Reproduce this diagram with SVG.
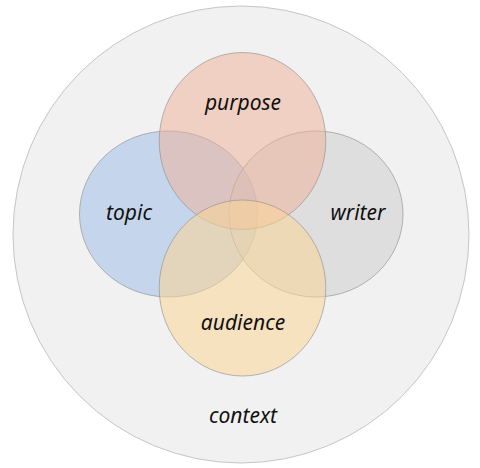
<svg xmlns="http://www.w3.org/2000/svg" width="480" height="468" viewBox="0 0 480 468">
<style>
.lbl{font-family:"Noto Sans","DejaVu Sans",sans-serif;font-style:italic;font-size:21px;fill:#111;text-anchor:middle}
.set{stroke:#8f8f8f;stroke-width:0.8;stroke-opacity:0.8}
</style>
<rect width="480" height="468" fill="#ffffff"/>
<g id="context">
<ellipse cx="241" cy="234.5" rx="228" ry="228.5" fill="#f1f1f1" stroke="#c6c6c6" stroke-width="1"/>
<text class="lbl" x="243" y="423">context</text>
</g>
<g id="topic">
<ellipse class="set" cx="168.5" cy="214" rx="89" ry="83" fill="rgb(160,192,232)" fill-opacity="0.55"/>
</g>
<g id="writer">
<ellipse class="set" cx="316" cy="214" rx="87" ry="83" fill="rgb(205,205,205)" fill-opacity="0.55"/>
</g>
<g id="purpose">
<ellipse class="set" cx="242.5" cy="141" rx="83.3" ry="88.5" fill="rgb(240,175,150)" fill-opacity="0.5"/>
</g>
<g id="audience">
<ellipse class="set" cx="242.5" cy="288" rx="83.3" ry="88" fill="rgb(252,214,150)" fill-opacity="0.55"/>
</g>
<g id="labels">
<text class="lbl" x="243" y="110">purpose</text>
<text class="lbl" x="129" y="220">topic</text>
<text class="lbl" x="358" y="220">writer</text>
<text class="lbl" x="243" y="330">audience</text>
</g>
<g id="connectors"></g>
</svg>
